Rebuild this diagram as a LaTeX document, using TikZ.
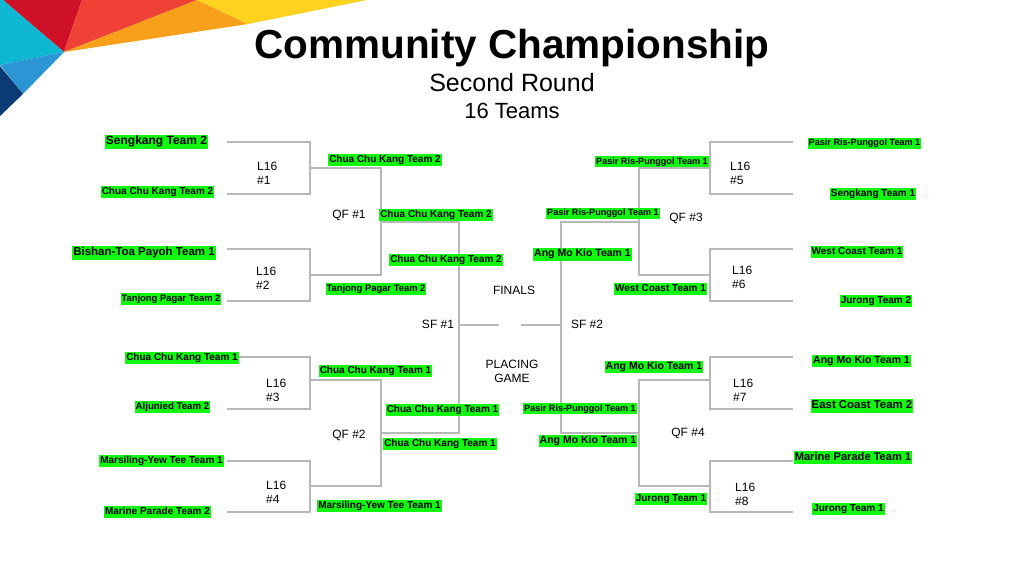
\documentclass[tikz,border=0pt]{standalone}
\usepackage{fontspec}
\setmainfont{Liberation Sans}
\usetikzlibrary{positioning}
\definecolor{teamgreen}{HTML}{12F70F}
\definecolor{bracketgray}{HTML}{B8B8B8}
\definecolor{bannerred}{HTML}{CE1126}
\definecolor{bannercoral}{HTML}{EF4136}
\definecolor{bannerorange}{HTML}{F9A01B}
\definecolor{banneryellow}{HTML}{FFD21F}
\definecolor{bannercyan}{HTML}{0DB7D1}
\definecolor{bannerblue}{HTML}{2B96D3}
\definecolor{bannernavy}{HTML}{0B3A75}
\tikzset{
  team/.style={fill=teamgreen,text=black,yshift=-0.8pt,inner xsep=0.9pt,inner ysep=1.4pt,text height=#1pt*0.72,text depth=#1pt*0.21,font=\bfseries\fontsize{#1}{#1}\selectfont},
  round/.style={align=left,anchor=west,inner sep=0pt,font=\fontsize{12}{14}\selectfont},
  stage/.style={align=center,font=\fontsize{12}{14}\selectfont},
  bracket/.style={draw=bracketgray,line width=1.1pt}
}
\begin{document}
\begin{tikzpicture}[x=1pt,y=-1pt]
\useasboundingbox (0,0) rectangle (1024,576);
% corner banner
\fill[bannerred] (3,0) -- (82,0) -- (64,52) -- cycle;
\fill[bannercoral] (82,0) -- (197,0) -- (64,52) -- cycle;
\fill[bannerorange] (197,0) -- (248,24) -- (64,52) -- cycle;
\fill[banneryellow] (197,0) -- (367,0) -- (248,24) -- cycle;
\fill[bannercyan] (0,0) -- (3,0) -- (64,52) -- (0,65) -- cycle;
\fill[bannerblue] (0,65) -- (64,52) -- (23,94) -- cycle;
\fill[bannernavy] (0,66) -- (23,94) -- (0,116) -- cycle;
% titles
\node[font=\bfseries\fontsize{40.5}{40.5}\selectfont] at (512,48) (title) {Community Championship};
\node[font=\fontsize{25}{25}\selectfont] at (512,83) (subtitle) {Second Round};
\node[font=\fontsize{22}{22}\selectfont] at (512,111) (size) {16 Teams};
% bracket joints
\foreach \name/\x/\y in {a1/227/142,a2/227/194,a3/227/249,a4/227/301,a5/227/357,a6/227/409,a7/227/461,a8/227/512,
  b1/793/142,b2/793/194,b3/793/249,b4/793/301,b5/793/357,b6/793/409,b7/793/461,b8/793/512,
  l1/310/168,l2/310/275,l3/310/380,l4/310/486,l5/710/168,l6/710/275,l7/710/380,l8/710/486,
  q1/381/222,q2/381/433,q3/639/222,q4/639/433,s1/459/325,s2/561/325,f1/499/325,f2/521/325}
  \coordinate (\name) at (\x,\y);
% brackets
\draw[bracket] (a1) -| (l1) |- (a2);
\draw[bracket] (a3) -| (l2) |- (a4);
\draw[bracket] (a5) -| (l3) |- (a6);
\draw[bracket] (a7) -| (l4) |- (a8);
\draw[bracket] (b1) -| (l5) |- (b2);
\draw[bracket] (b3) -| (l6) |- (b4);
\draw[bracket] (b5) -| (l7) |- (b6);
\draw[bracket] (b7) -| (l8) |- (b8);
\draw[bracket] (l1) -| (q1) |- (l2);
\draw[bracket] (l3) -| (q2) |- (l4);
\draw[bracket] (l5) -| (q3) |- (l6);
\draw[bracket] (l7) -| (q4) |- (l8);
\draw[bracket] (q1) -| (s1) |- (q2);
\draw[bracket] (q3) -| (s2) |- (q4);
\draw[bracket] (s1) -- (f1);
\draw[bracket] (s2) -- (f2);
% left rounds
\node[team=12] at (156.5,141) (t1) {Sengkang Team 2};
\node[team=10] at (157.5,191) (t2) {Chua Chu Kang Team 2};
\node[team=11.5] at (144,252) (t3) {Bishan-Toa Payoh Team 1};
\node[team=9.4] at (171,298) (t4) {Tanjong Pagar Team 2};
\node[team=10] at (182,357) (t5) {Chua Chu Kang Team 1};
\node[team=9.7] at (172.5,406) (t6) {Aljunied Team 2};
\node[team=10] at (161.5,460) (t7) {Marsiling-Yew Tee Team 1};
\node[team=10] at (157.5,511) (t8) {Marine Parade Team 2};
\node[team=10] at (385,159) (w1) {Chua Chu Kang Team 2};
\node[team=9.4] at (376,288) (w2) {Tanjong Pagar Team 2};
\node[team=10] at (375.5,370) (w3) {Chua Chu Kang Team 1};
\node[team=10] at (379.5,505) (w4) {Marsiling-Yew Tee Team 1};
\node[team=10] at (436,214) (x1) {Chua Chu Kang Team 2};
\node[team=10] at (442.5,409) (x2) {Chua Chu Kang Team 1};
\node[team=10] at (440,443) (x3) {Chua Chu Kang Team 1};
\node[team=10] at (446,259) (y1) {Chua Chu Kang Team 2};
% right rounds
\node[team=9.1] at (864.5,142.5) (t9) {Pasir Ris-Punggol Team 1};
\node[team=10] at (873,193) (t10) {Sengkang Team 1};
\node[team=10] at (857,251) (t11) {West Coast Team 1};
\node[team=10] at (876,300) (t12) {Jurong Team 2};
\node[team=10.5] at (861.5,360) (t13) {Ang Mo Kio Team 1};
\node[team=11.4] at (862,405) (t14) {East Coast Team 2};
\node[team=11.1] at (853,457) (t15) {Marine Parade Team 1};
\node[team=10] at (848.5,508) (t16) {Jurong Team 1};
\node[team=9.1] at (652,161) (w5) {Pasir Ris-Punggol Team 1};
\node[team=10] at (660.5,288.5) (w6) {West Coast Team 1};
\node[team=10.5] at (654,366) (w7) {Ang Mo Kio Team 1};
\node[team=10] at (671,498) (w8) {Jurong Team 1};
\node[team=9.1] at (603,212.5) (x4) {Pasir Ris-Punggol Team 1};
\node[team=9.1] at (580,408) (x5) {Pasir Ris-Punggol Team 1};
\node[team=10.5] at (588,440) (x6) {Ang Mo Kio Team 1};
\node[team=10.5] at (582.5,253.5) (y2) {Ang Mo Kio Team 1};
% stage labels
\node[round] at (257,173) (r1) {L16\\\#1};
\node[round] at (256,278) (r2) {L16\\\#2};
\node[round] at (266,390) (r3) {L16\\\#3};
\node[round] at (266,492) (r4) {L16\\\#4};
\node[round] at (730,173) (r5) {L16\\\#5};
\node[round] at (732,277) (r6) {L16\\\#6};
\node[round] at (733,390) (r7) {L16\\\#7};
\node[round] at (735,494) (r8) {L16\\\#8};
\node[stage] at (349,215) (qf1) {QF \#1};
\node[stage] at (349,435) (qf2) {QF \#2};
\node[stage] at (686,218) (qf3) {QF \#3};
\node[stage] at (688,433) (qf4) {QF \#4};
\node[stage] at (438,324) (sf1) {SF \#1};
\node[stage] at (587,324) (sf2) {SF \#2};
\node[stage] at (514,290) (fin) {FINALS};
\node[stage] at (512,371) (place) {PLACING\\GAME};
\end{tikzpicture}
\end{document}
